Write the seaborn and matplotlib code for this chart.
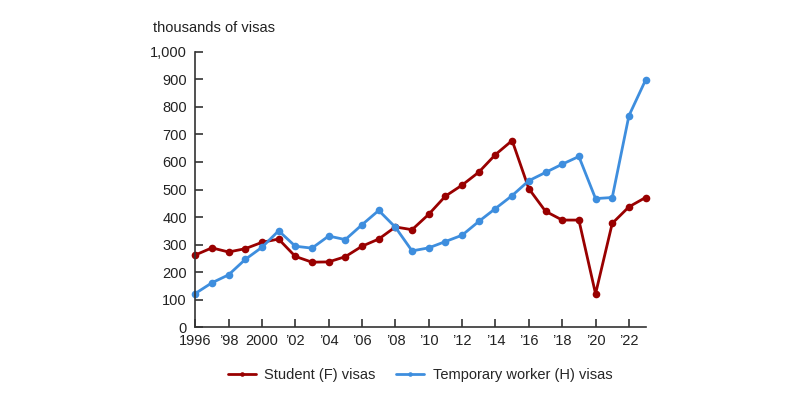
import matplotlib
matplotlib.use("Agg")
import matplotlib.pyplot as plt
from matplotlib.ticker import FuncFormatter
import seaborn as sns
import pandas as pd

years = list(range(1996, 2024))
student_visas = [262, 288, 273, 285, 308, 320, 257, 236, 237, 256, 294, 320, 364, 354,
                 410, 476, 516, 563, 627, 678, 503, 421, 389, 389, 121, 377, 437, 471]
worker_visas = [122, 161, 190, 246, 290, 350, 294, 287, 331, 318, 372, 424, 363, 277,
                288, 311, 334, 384, 431, 478, 532, 562, 592, 620, 467, 471, 768, 898]
series_labels = ["Student (F) visas", "Temporary worker (H) visas"]
colors = ["#990000", "#3E8EDE"]

df = pd.DataFrame({
    "year": years * 2,
    "visas": student_visas + worker_visas,
    "series": [series_labels[0]] * len(years) + [series_labels[1]] * len(years),
})

sns.set_style("white")
plt.rcParams["font.family"] = ["Liberation Sans", "DejaVu Sans"]

fig = plt.figure(figsize=(8, 4.12), dpi=100)
ax = fig.add_axes([0.244, 0.206, 0.563, 0.668])

sns.lineplot(data=df, x="year", y="visas", hue="series", palette=colors,
             marker="o", markersize=5.5, markeredgewidth=0, linewidth=2, ax=ax)
for line in ax.lines:
    line.set_clip_on(False)

ax.set_xlim(1996, 2023)
ax.set_ylim(0, 1000)
ax.set_yticks(range(0, 1001, 100))
ax.yaxis.set_major_formatter(FuncFormatter(lambda v, p: f"{int(v):,}"))
xticks = list(range(1996, 2023, 2))
ax.set_xticks(xticks)
xlabels = []
for y in xticks:
    if y in (1996, 2000):
        xlabels.append(str(y))
    else:
        xlabels.append("\u2019" + str(y)[2:])
ax.set_xticklabels(xlabels)
ax.tick_params(axis="both", direction="in", length=6, width=1.2, color="#333333",
               labelsize=10.5, labelcolor="#222222", bottom=True, left=True)
ax.tick_params(axis="x", pad=5)
ax.tick_params(axis="y", pad=6)
for side in ["top", "right"]:
    ax.spines[side].set_visible(False)
for side in ["left", "bottom"]:
    ax.spines[side].set_color("#333333")
    ax.spines[side].set_linewidth(1.2)
ax.set_xlabel("")
ax.set_ylabel("")
fig.text(153 / 800, 1 - 28 / 412, "thousands of visas", fontsize=10.5, color="#222222",
         va="center", ha="left")

handles, labels = ax.get_legend_handles_labels()
ax.legend(handles, labels, loc="center", bbox_to_anchor=(0.525, 1 - 375 / 412),
          bbox_transform=fig.transFigure, ncol=2, frameon=False, fontsize=10.5,
          handlelength=1.9, handletextpad=0.6, columnspacing=1.4, markerscale=0.6)

fig.savefig("out.png", dpi=100)
